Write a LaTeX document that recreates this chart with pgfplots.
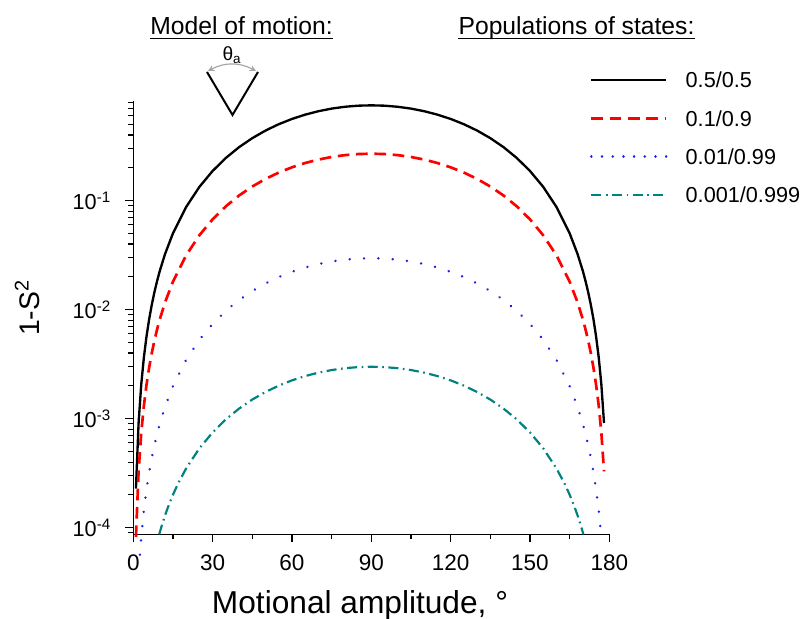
\documentclass[border=0pt]{standalone}
\usepackage{fontspec}
\setmainfont{Liberation Sans}
\usepackage{pgfplots}
\pgfplotsset{compat=1.18}
\definecolor{tealc}{RGB}{0,130,128}
\definecolor{dotblue}{RGB}{30,30,230}
\definecolor{arcgray}{RGB}{165,165,165}
\pgfplotsset{dotlegend/.style={legend image code/.code={\draw[##1, dash pattern=on 0.01pt off 6.4pt] (0pt,0pt) -- (45pt,0pt);}}}
\begin{document}
\begin{tikzpicture}
\begin{axis}[
  at={(79.98pt,50.82pt)}, anchor=south west,
  scale only axis, width=285.6pt, height=260.16pt,
  ymode=log, xmin=0, xmax=180, ymin=8.7e-5, ymax=0.827,
  clip=false,
  axis lines*=left,
  axis line style={line width=0.9pt},
  tick align=outside,
  major tick length=4.8pt, minor tick length=3pt,
  every tick/.style={black, line width=0.7pt},
  xtick={0,30,60,90,120,150,180},
  minor xtick={15,45,75,105,135,165},
  ytick={1e-4,1e-3,1e-2,1e-1},
  yticklabels={10\textsuperscript{-4},10\textsuperscript{-3},10\textsuperscript{-2},10\textsuperscript{-1}},
  minor ytick={9e-5,2e-4,3e-4,4e-4,5e-4,6e-4,7e-4,8e-4,9e-4,2e-3,3e-3,4e-3,5e-3,6e-3,7e-3,8e-3,9e-3,2e-2,3e-2,4e-2,5e-2,6e-2,7e-2,8e-2,9e-2,0.2,0.3,0.4,0.5,0.6,0.7,0.8},
  /pgf/number format/assume math mode=true,
  xticklabel style={font=\fontsize{13.5}{16}\selectfont, yshift=-4pt},
  yticklabel style={font=\fontsize{13}{16}\selectfont, xshift=-5pt},
  xlabel={Motional amplitude, °},
  xlabel style={at={(axis description cs:0.4763,-0.1815)}, anchor=base, font=\fontsize{19}{21}\selectfont},
  legend style={at={(axis description cs:0.9595,1.0657)}, anchor=north west,
    draw=none, fill=none, inner sep=0pt, outer sep=0pt,
    row sep=13.6pt, column sep=10.8pt,
    font=\fontsize{13}{15}\selectfont,
    nodes={inner sep=0pt, text height=9.4pt, text depth=0pt}},
  legend cell align=left,
  legend image code/.code={\draw[#1] (0pt,0pt) -- (45pt,0pt);},
]
\addplot[black, line width=1.4pt] coordinates {
(1,2.284e-4)(2,9.135e-4)(3,2.054e-3)(4,3.649e-3)(5,5.697e-3)(6,8.195e-3)(7,1.114e-2)(8,1.453e-2)(9,1.835e-2)(10,2.262e-2)(12,3.242e-2)(15,5.024e-2)(20,8.773e-2)(25,0.1340)(30,0.1875)(35,0.2467)(40,0.3099)(45,0.375)(50,0.4401)(55,0.5033)(60,0.5625)(65,0.6160)(70,0.6623)(75,0.6998)(80,0.7274)(85,0.7443)(90,0.75)(95,0.7443)(100,0.7274)(105,0.6998)(110,0.6623)(115,0.6160)(120,0.5625)(125,0.5033)(130,0.4401)(135,0.375)(140,0.3099)(145,0.2467)(150,0.1875)(155,0.1340)(160,8.773e-2)(165,5.024e-2)(168,3.242e-2)(170,2.262e-2)(171,1.835e-2)(172,1.453e-2)(173,1.114e-2)(174,8.195e-3)(175,5.697e-3)(176,3.649e-3)(177,2.054e-3)(178,9.135e-4)
};
\addlegendentry{0.5/0.5}
\addplot[red, line width=1.6pt, dash pattern=on 7pt off 4pt] coordinates {
(1,8.224e-5)(2,3.289e-4)(3,7.396e-4)(4,1.314e-3)(5,2.051e-3)(6,2.950e-3)(7,4.010e-3)(8,5.230e-3)(9,6.607e-3)(10,8.142e-3)(12,1.167e-2)(15,1.809e-2)(20,3.158e-2)(25,4.822e-2)(30,0.0675)(35,0.08883)(40,0.1116)(45,0.135)(50,0.1584)(55,0.1812)(60,0.2025)(65,0.2218)(70,0.2384)(75,0.2519)(80,0.2619)(85,0.2679)(90,0.27)(95,0.2679)(100,0.2619)(105,0.2519)(110,0.2384)(115,0.2218)(120,0.2025)(125,0.1812)(130,0.1584)(135,0.135)(140,0.1116)(145,0.08883)(150,0.0675)(155,4.822e-2)(160,3.158e-2)(165,1.809e-2)(168,1.167e-2)(170,8.142e-3)(171,6.607e-3)(172,5.230e-3)(173,4.010e-3)(174,2.950e-3)(175,2.051e-3)(176,1.314e-3)(177,7.396e-4)(178,3.289e-4)
};
\addlegendentry{0.1/0.9}
\addplot[dotblue, line width=1.6pt, line cap=round, dash pattern=on 0.01pt off 8.6pt, dotlegend] coordinates {
(2.5,5.651e-5)(3,8.135e-5)(4,1.445e-4)(5,2.256e-4)(6,3.245e-4)(7,4.411e-4)(8,5.753e-4)(9,7.268e-4)(10,8.956e-4)(12,1.284e-3)(15,1.990e-3)(20,3.474e-3)(25,5.305e-3)(30,7.425e-3)(35,9.771e-3)(40,1.227e-2)(45,1.485e-2)(50,1.743e-2)(55,1.993e-2)(60,2.228e-2)(65,2.440e-2)(70,2.623e-2)(75,2.771e-2)(80,2.880e-2)(85,2.947e-2)(90,2.97e-2)(95,2.947e-2)(100,2.880e-2)(105,2.771e-2)(110,2.623e-2)(115,2.440e-2)(120,2.228e-2)(125,1.993e-2)(130,1.743e-2)(135,1.485e-2)(140,1.227e-2)(145,9.771e-3)(150,7.425e-3)(155,5.305e-3)(160,3.474e-3)(165,1.990e-3)(168,1.284e-3)(170,8.956e-4)(171,7.268e-4)(172,5.753e-4)(173,4.411e-4)(174,3.245e-4)(175,2.256e-4)(176,1.445e-4)(177,8.135e-5)
};
\addlegendentry{0.01/0.99}
\addplot[tealc, line width=1.3pt, dash pattern=on 6pt off 2.7pt on 1pt off 2.7pt] coordinates {
(9.8,8.683e-5)(10,9.037e-5)(11,1.091e-4)(12,1.296e-4)(13,1.517e-4)(15,2.008e-4)(17,2.562e-4)(20,3.506e-4)(25,5.353e-4)(30,7.493e-4)(35,9.860e-4)(40,1.238e-3)(45,1.499e-3)(50,1.759e-3)(55,2.011e-3)(60,2.248e-3)(65,2.462e-3)(70,2.646e-3)(75,2.796e-3)(80,2.907e-3)(85,2.974e-3)(90,2.997e-3)(95,2.974e-3)(100,2.907e-3)(105,2.796e-3)(110,2.646e-3)(115,2.462e-3)(120,2.248e-3)(125,2.011e-3)(130,1.759e-3)(135,1.499e-3)(140,1.238e-3)(145,9.860e-4)(150,7.493e-4)(155,5.353e-4)(160,3.506e-4)(163,2.562e-4)(165,2.008e-4)(167,1.517e-4)(168,1.296e-4)(169,1.091e-4)(170,9.037e-5)(170.2,8.683e-5)
};
\addlegendentry{0.001/0.999}
\end{axis}
\begin{scope}[x=0.6pt,y=0.6pt]
  \node[inner sep=0pt, rotate=90, font=\fontsize{17}{20}\selectfont] at (27,311) {1-S\textsuperscript{2}};
  \node[inner sep=0pt, anchor=base, font=\fontsize{14.8}{17}\selectfont] (t1) at (241.5,584) {Model of motion:};
  \draw[line width=0.8pt] ([yshift=-2pt]t1.base west) -- ([yshift=-2pt]t1.base east);
  \node[inner sep=0pt, anchor=base, font=\fontsize{14.8}{17}\selectfont] (t2) at (576.5,584) {Populations of states:};
  \draw[line width=0.8pt] ([yshift=-2pt]t2.base west) -- ([yshift=-2pt]t2.base east);
  \draw[line width=1.2pt] (207,547) -- (232.5,504) -- (258,547);
  \draw[arcgray, line width=0.7pt, <->, >=stealth] (208,548) to[bend left=28] (256,548);
  \node[inner sep=0pt, font=\fontsize{11.5}{13}\selectfont] at (232,564) {θ\textsubscript{a}};
\end{scope}
\pgfresetboundingbox
\path (0,0) rectangle (481.2pt,371.4pt);
\end{tikzpicture}
\end{document}
